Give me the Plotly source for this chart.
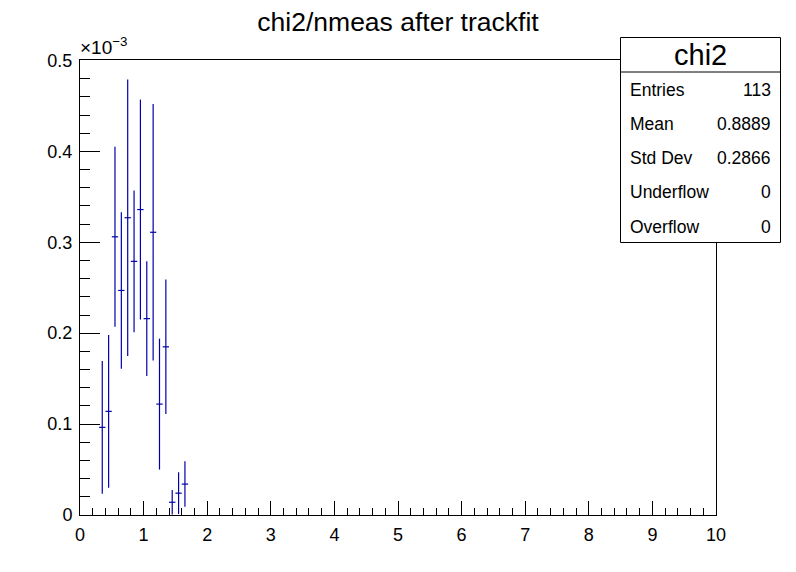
import plotly.graph_objects as go

# ---- data (bin centers, contents, errors) ----
bin_centers = [0.35, 0.45, 0.55, 0.65, 0.75, 0.85, 0.95, 1.05, 1.15, 1.25, 1.35, 1.45, 1.55, 1.65]
contents = [0.0964e-3, 0.114e-3, 0.306e-3, 0.247e-3, 0.327e-3, 0.279e-3, 0.336e-3,
            0.216e-3, 0.311e-3, 0.122e-3, 0.185e-3, 0.014e-3, 0.024e-3, 0.034e-3]
errors = [0.073e-3, 0.084e-3, 0.099e-3, 0.086e-3, 0.152e-3, 0.078e-3, 0.121e-3,
          0.063e-3, 0.141e-3, 0.072e-3, 0.074e-3, 0.0135e-3, 0.023e-3, 0.025e-3]
bin_width = 0.1
scale = 1e-3

stat_labels = ["Entries", "Mean", "Std Dev", "Underflow", "Overflow"]
stat_values = ["113", "0.8889", "0.2866", "0", "0"]
hist_name = "chi2"
title = "chi2/nmeas after trackfit"

FONT = "Liberation Sans, Arial, Helvetica, sans-serif"
COL = "#0000a8"

fig = go.Figure()
fig.add_trace(go.Scatter(
    x=bin_centers,
    y=[c / scale for c in contents],
    mode="markers",
    marker=dict(size=1, color=COL, opacity=0),
    error_x=dict(type="constant", value=bin_width / 2, width=0, thickness=1.2, color=COL),
    error_y=dict(type="data", array=[e / scale for e in errors], width=0, thickness=1.2, color=COL),
    showlegend=False, hoverinfo="skip",
))

L, R, T, B = 80, 716, 60, 515
W, H = R - L, B - T
def px(x):
    return (x - L) / W
def py(y):
    return (B - y) / H

shapes = [
    dict(type="rect", xref="paper", yref="paper", x0=px(620.5), x1=px(780.5), y0=py(242.5), y1=py(37.5),
         line=dict(color="black", width=1), fillcolor="white", layer="above"),
    dict(type="line", xref="paper", yref="paper", x0=px(620.5), x1=px(780.5), y0=py(72), y1=py(72),
         line=dict(color="black", width=1), layer="above"),
]
ann = [
    dict(text=hist_name, xref="paper", yref="paper", x=px(700.5), y=py(55), xanchor="center", yanchor="middle",
         showarrow=False, font=dict(family=FONT, size=29, color="black")),
    dict(text="×10<sup>−3</sup>", xref="paper", yref="paper", x=px(78), y=py(60), xanchor="left", yanchor="bottom",
         showarrow=False, font=dict(family=FONT, size=19, color="black")),
]
row_y = [90, 124, 158, 192, 227]
for lab, val, yy in zip(stat_labels, stat_values, row_y):
    ann.append(dict(text=lab, xref="paper", yref="paper", x=px(628), y=py(yy), xanchor="left", yanchor="middle",
                    showarrow=False, font=dict(family=FONT, size=17.5, color="black")))
    ann.append(dict(text=val, xref="paper", yref="paper", x=px(773), y=py(yy), xanchor="right", yanchor="middle",
                    showarrow=False, font=dict(family=FONT, size=17.5, color="black")))

fig.update_layout(
    width=796, height=572,
    margin=dict(l=L, r=796 - R, t=T, b=572 - B, pad=0),
    paper_bgcolor="white", plot_bgcolor="white",
    title=dict(text=title, x=0.5, xanchor="center", y=1 - 22 / 572, yanchor="middle",
               font=dict(family=FONT, size=26.5, color="black")),
    font=dict(family=FONT, size=18, color="black"),
    shapes=shapes, annotations=ann,
    xaxis=dict(range=[0, 10], tickmode="linear", tick0=0, dtick=1, ticks="inside", ticklen=14,
               tickcolor="black", showline=True, linecolor="black", linewidth=1, mirror=True,
               showgrid=False, zeroline=False, ticklabelstandoff=3,
               tickfont=dict(family=FONT, size=18, color="black"),
               minor=dict(dtick=0.2, tick0=0, ticks="inside", ticklen=7, tickcolor="black", showgrid=False)),
    yaxis=dict(range=[0, 0.5005], tickmode="linear", tick0=0, dtick=0.1, ticks="inside", ticklen=20,
               tickcolor="black", showline=True, linecolor="black", linewidth=1, mirror=True,
               showgrid=False, zeroline=False, ticklabelstandoff=3, tickformat=".1~f",
               tickfont=dict(family=FONT, size=18, color="black"),
               minor=dict(dtick=0.02, tick0=0, ticks="inside", ticklen=10, tickcolor="black", showgrid=False)),
)
fig.write_html("out.html")
